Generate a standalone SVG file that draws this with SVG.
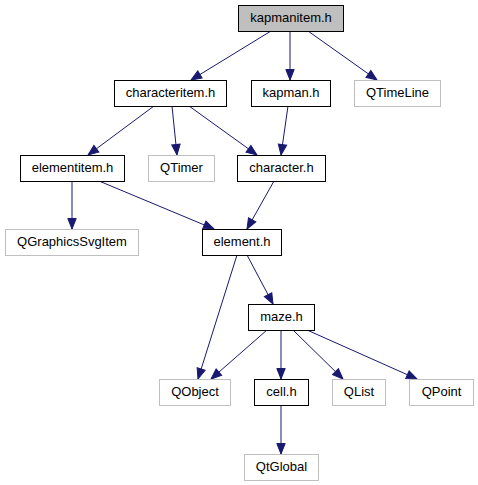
<svg xmlns="http://www.w3.org/2000/svg" width="478" height="485" viewBox="0 0 478 485">
<style>
.n rect{fill:#fff;stroke:#000;stroke-width:1}
.g rect{fill:#fff;stroke:#bfbfbf;stroke-width:1}
text{font-family:"Liberation Sans",Arial,sans-serif;font-size:13px;text-anchor:middle;fill:#000}
.e line{stroke:#191970;stroke-width:1;fill:none;marker-end:url(#ah)}
</style>
<defs>
<marker id="ah" markerUnits="userSpaceOnUse" markerWidth="14" markerHeight="12" viewBox="-1 -6 13 12" refX="10.5" refY="0" orient="auto">
<path d="M0,-4.2 L10.5,0 L0,4.2 Z" fill="#191970" stroke="#191970" stroke-width="1"/>
</marker>
</defs>
<rect width="478" height="485" fill="#fff"/>
<g class="e" id="edges">
<line x1="271" y1="31" x2="191" y2="80"/>
<line x1="290" y1="31" x2="290" y2="80"/>
<line x1="308" y1="31" x2="377" y2="80"/>
<line x1="154" y1="106" x2="88" y2="155"/>
<line x1="172" y1="106" x2="177" y2="155"/>
<line x1="189" y1="106" x2="257" y2="155"/>
<line x1="288" y1="106" x2="281" y2="155"/>
<line x1="72" y1="181" x2="72" y2="229"/>
<line x1="99" y1="181" x2="214" y2="229"/>
<line x1="274" y1="181" x2="247" y2="229"/>
<line x1="237" y1="255" x2="198" y2="379"/>
<line x1="247" y1="255" x2="273" y2="304"/>
<line x1="267" y1="330" x2="211" y2="379"/>
<line x1="281" y1="330" x2="281" y2="379"/>
<line x1="293" y1="330" x2="343" y2="379"/>
<line x1="307" y1="330" x2="417" y2="379"/>
<line x1="281" y1="405" x2="281" y2="454"/>
</g>
<g id="kapmanitem" class="n"><rect x="238.5" y="5.5" width="105" height="26" style="fill:#bfbfbf"/><text x="291" y="22">kapmanitem.h</text></g>
<g id="characteritem" class="n"><rect x="114.5" y="80.5" width="112" height="26"/><text x="170.5" y="97">characteritem.h</text></g>
<g id="kapman" class="n"><rect x="251.5" y="80.5" width="79" height="26"/><text x="291" y="97">kapman.h</text></g>
<g id="QTimeLine" class="g"><rect x="354.5" y="80.5" width="86" height="26"/><text x="397.5" y="97">QTimeLine</text></g>
<g id="elementitem" class="n"><rect x="20.5" y="155.5" width="104" height="26"/><text x="72.5" y="172">elementitem.h</text></g>
<g id="QTimer" class="g"><rect x="148.5" y="155.5" width="66" height="26"/><text x="181.5" y="172">QTimer</text></g>
<g id="character" class="n"><rect x="237.5" y="155.5" width="88" height="26"/><text x="281.5" y="172">character.h</text></g>
<g id="QGraphicsSvgItem" class="g"><rect x="5.5" y="229.5" width="133" height="26"/><text x="72" y="246">QGraphicsSvgItem</text></g>
<g id="element" class="n"><rect x="202.5" y="229.5" width="79" height="26"/><text x="242" y="246">element.h</text></g>
<g id="maze" class="n"><rect x="248.5" y="304.5" width="66" height="26"/><text x="281.5" y="321">maze.h</text></g>
<g id="QObject" class="g"><rect x="159.5" y="379.5" width="71" height="26"/><text x="195" y="396">QObject</text></g>
<g id="cell" class="n"><rect x="254.5" y="379.5" width="54" height="26"/><text x="281.5" y="396">cell.h</text></g>
<g id="QList" class="g"><rect x="332.5" y="379.5" width="53" height="26"/><text x="359" y="396">QList</text></g>
<g id="QPoint" class="g"><rect x="409.5" y="379.5" width="64" height="26"/><text x="441.5" y="396">QPoint</text></g>
<g id="QtGlobal" class="g"><rect x="244.5" y="454.5" width="74" height="26"/><text x="281.5" y="471">QtGlobal</text></g>
</svg>
